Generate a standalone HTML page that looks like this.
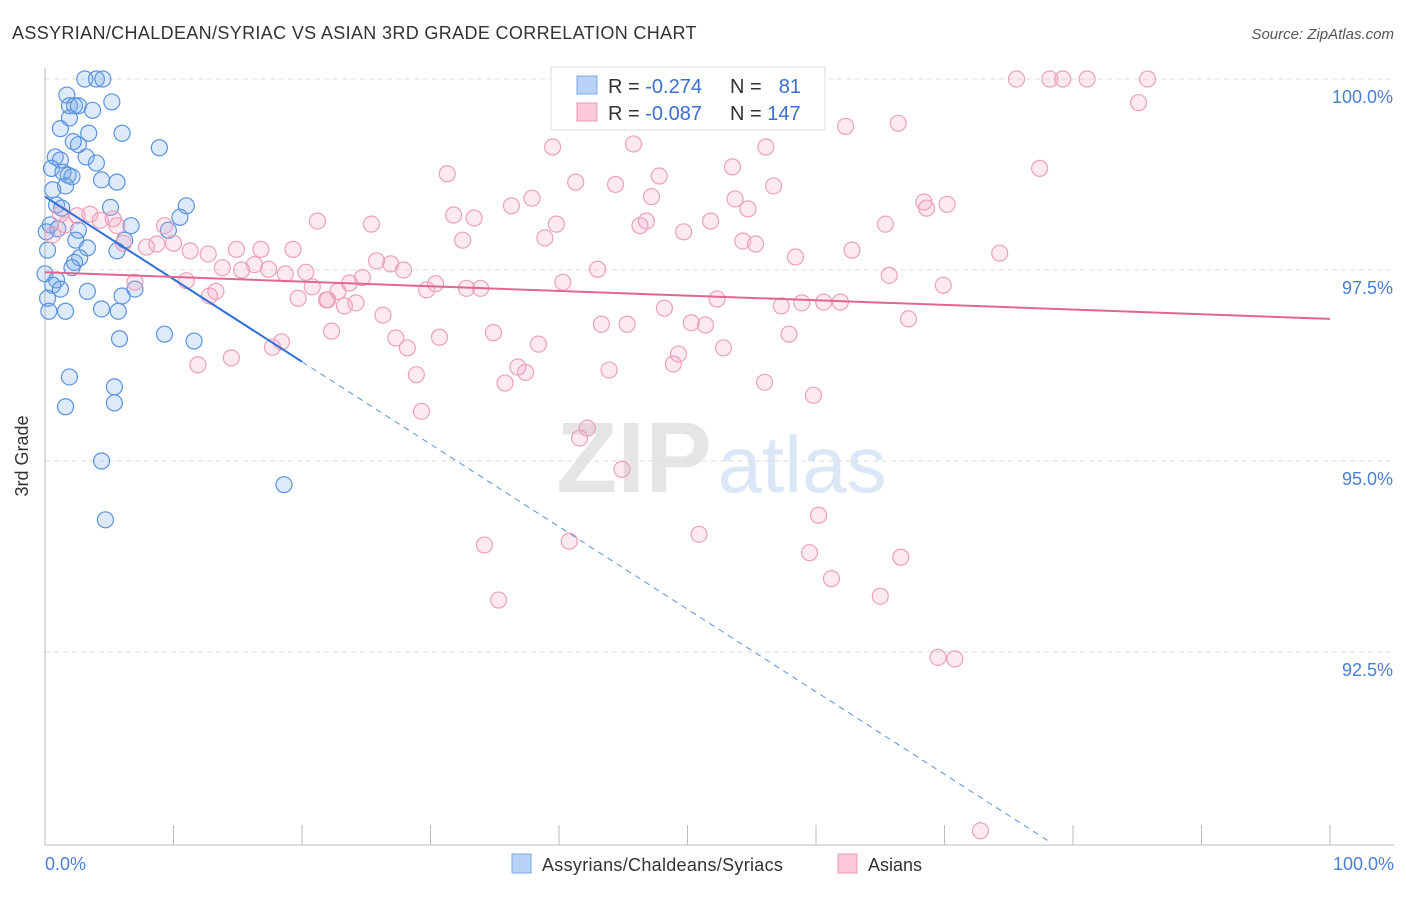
<!DOCTYPE html>
<html><head><meta charset="utf-8"><style>
body{margin:0;background:#fff;font-family:"Liberation Sans",sans-serif;}
svg text{font-family:"Liberation Sans",sans-serif;}
</style></head><body>
<svg id="chart" width="1406" height="892" xmlns="http://www.w3.org/2000/svg">
<text x="12" y="39" font-size="18" fill="#333" letter-spacing="0.35">ASSYRIAN/CHALDEAN/SYRIAC VS ASIAN 3RD GRADE CORRELATION CHART</text>
<text x="1394" y="39" font-size="15" fill="#555" font-style="italic" text-anchor="end">Source: ZipAtlas.com</text>
<g opacity="0.5">
<text x="634" y="492" font-size="100" fill="#ccc" text-anchor="middle" font-family="Liberation Serif" font-weight="bold">ZIP</text>
<text x="802" y="492" font-size="80" fill="#b8cff0" text-anchor="middle">atlas</text>
</g>
<g id="grid"></g>
<g id="axes"></g>
<g id="pts"></g>
<g id="trends"></g>
<text x="28" y="456" font-size="18" fill="#333" text-anchor="middle" transform="rotate(-90 28 456)">3rd Grade</text>
<text x="45" y="870" font-size="18" fill="#4a7fd4">0.0%</text>
<text x="1394" y="870" font-size="18" fill="#4a7fd4" text-anchor="end">100.0%</text>
<g>
<rect x="551" y="67" width="274" height="63" fill="#fff" stroke="#ddd"/>
<rect x="577" y="76" width="20" height="18" fill="#b8d3f5" stroke="#7aa7e3"/>
<rect x="577" y="103" width="20" height="18" fill="#fac8d8" stroke="#ee9ab5"/>
<text x="608" y="93" font-size="20" fill="#333">R = <tspan fill="#3a6fd0">-0.274</tspan></text>
<text x="730" y="93" font-size="20" fill="#333">N = </text><text x="801" y="93" font-size="20" fill="#3a6fd0" text-anchor="end">81</text>
<text x="608" y="120" font-size="20" fill="#333">R = <tspan fill="#3a6fd0">-0.087</tspan></text>
<text x="730" y="120" font-size="20" fill="#333">N = <tspan fill="#3a6fd0">147</tspan></text>
</g>
<g>
<rect x="512" y="854" width="19" height="19" fill="#b8d3f5" stroke="#7aa7e3"/>
<text x="542" y="871" font-size="18" fill="#333" letter-spacing="0.3">Assyrians/Chaldeans/Syriacs</text>
<rect x="838" y="854" width="19" height="19" fill="#fac8d8" stroke="#ee9ab5"/>
<text x="868" y="871" font-size="18" fill="#333">Asians</text>
</g>
</svg>
<script>
const yTicks=[100,97.5,95,92.5];
const yTickLabels=["100.0%","97.5%","95.0%","92.5%"];
const xTicks=[0,10,20,30,40,50,60,70,80,90,100];
const blueX=[3.1,4.0,4.5,1.7,1.9,2.3,2.6,5.2,3.7,1.2,1.9,3.4,6.0,2.6,2.2,0.8,1.2,3.2,4.0,8.9,0.5,1.4,1.8,2.1,4.4,5.6,1.6,0.6,11.0,5.1,0.9,1.3,10.5,0.4,0.1,1.0,2.6,6.7,9.6,2.4,6.2,0.2,5.6,3.3,2.7,2.3,2.1,0,0.9,0.6,1.2,3.3,7.0,6.0,0.2,1.6,4.4,5.7,0.3,9.3,11.6,5.8,1.9,5.4,5.4,1.6,4.4,18.6,4.7];
const blueY=[100,100,100,99.79,99.65,99.65,99.65,99.70,99.59,99.35,99.49,99.29,99.29,99.14,99.18,98.98,98.94,98.98,98.90,99.10,98.83,98.78,98.74,98.72,98.68,98.65,98.60,98.55,98.34,98.32,98.35,98.31,98.19,98.09,98.00,98.04,98.02,98.08,98.02,97.89,97.89,97.76,97.75,97.79,97.66,97.60,97.53,97.45,97.37,97.30,97.25,97.22,97.25,97.16,97.13,96.96,96.99,96.96,96.96,96.66,96.57,96.60,96.10,95.97,95.76,95.71,95.0,94.69,94.23];
const pinkX=[75.6,78.2,79.2,81.1,85.8,85.1,66.4,62.3,45.8,39.5,56.1,53.5,77.4,31.3,47.8,41.3,44.4,56.7,37.9,47.2,68.4,36.3,53.7,68.6,70.2,31.8,33.4,54.7,21.2,25.4,39.8,46.3,46.8,51.8,65.4,49.7,38.9,32.5,54.3,55.3,14.9,16.8,19.3,62.8,74.3,58.4,11.3,12.7,7.9,6.1,8.7,5.6,1.2,2.5,3.5,4.3,5.3,1.6,0.6,10.0,9.3,25.8,26.9,27.9,13.8,15.3,16.3,17.4,18.7,20.3,43.0,65.7,69.9,11.0,7.0,24.7,23.7,30.4,32.8,33.9,29.7,40.3,13.3,12.8,20.8,19.7,22.0,22.8,21.9,24.2,23.3,26.3,52.3,57.3,58.9,60.6,61.9,48.2,67.2,43.3,45.3,50.3,51.4,34.9,30.7,27.3,22.3,38.4,28.2,18.4,17.7,52.8,57.9,49.3,14.5,11.9,36.8,37.4,28.9,43.9,48.9,56.0,35.8,59.8,29.3,42.2,41.6,44.9,60.2,34.2,40.8,50.9,59.5,66.6,61.2,65.0,35.3,69.5,70.8,72.8];
const pinkY=[100,100,100,100,100,99.69,99.42,99.38,99.15,99.11,99.11,98.85,98.83,98.76,98.73,98.65,98.62,98.60,98.44,98.46,98.39,98.34,98.43,98.31,98.36,98.22,98.18,98.30,98.14,98.10,98.10,98.08,98.14,98.14,98.10,98.00,97.92,97.89,97.88,97.84,97.77,97.77,97.77,97.76,97.72,97.67,97.75,97.71,97.80,97.85,97.84,98.08,98.23,98.21,98.23,98.15,98.17,98.09,97.96,97.85,98.08,97.62,97.58,97.50,97.53,97.50,97.57,97.51,97.45,97.47,97.51,97.43,97.30,97.36,97.34,97.40,97.33,97.32,97.26,97.26,97.24,97.34,97.22,97.16,97.28,97.13,97.11,97.22,97.11,97.07,97.03,96.91,97.12,97.03,97.07,97.08,97.08,97.00,96.86,96.79,96.79,96.81,96.78,96.68,96.62,96.61,96.70,96.53,96.48,96.56,96.49,96.48,96.66,96.40,96.35,96.26,96.23,96.16,96.13,96.19,96.27,96.03,96.02,95.86,95.65,95.43,95.30,94.89,94.29,93.90,93.95,94.04,93.80,93.74,93.46,93.23,93.18,92.43,92.41,90.16];
const blueTrend=[98.46,96.30];
const pinkTrend=[97.47,96.86];
const X=v=>45+v*12.85;
const Y=v=>79+(100-v)*191/2.5;
const NS="http://www.w3.org/2000/svg";
function mk(tag,attrs,parent){const e=document.createElementNS(NS,tag);for(const k in attrs)e.setAttribute(k,attrs[k]);parent.appendChild(e);return e;}
const grid=document.getElementById('grid'),axes=document.getElementById('axes'),pts=document.getElementById('pts'),tr=document.getElementById('trends');
yTicks.forEach((t,i)=>{
 const l=mk('line',{x1:45,x2:1394,y1:Y(t),y2:Y(t),stroke:'#ddd','stroke-dasharray':'5,4'},grid);
 
 
 const tx=mk('text',{x:1393,y:Y(t)+24,'font-size':18,fill:'#4a7fd4','text-anchor':'end'},grid);
 tx.textContent=yTickLabels[i];
 
 
});
const la=mk('line',{x1:45,x2:45,y1:68,y2:845,stroke:'#bbb'},axes);


const ba=mk('line',{x1:45,x2:1394,y1:845,y2:845,stroke:'#bbb'},axes);


xTicks.forEach(t=>{
 const l=mk('line',{x1:X(t),x2:X(t),y1:825,y2:845,stroke:'#bbb'},axes);
 
 
});
blueX.forEach((x,i)=>{
 const c=mk('circle',{cx:X(x),cy:Y(blueY[i]),r:8,fill:'rgba(120,170,235,0.25)',stroke:'#5b93de','stroke-width':1.2},pts);
 
 
});
pinkX.forEach((x,i)=>{
 const c=mk('circle',{cx:X(x),cy:Y(pinkY[i]),r:8,fill:'rgba(245,160,190,0.22)',stroke:'#eca0ba','stroke-width':1.2},pts);
 
 
});
const slope=(blueTrend[1]-blueTrend[0])/20;
const xEnd=(90-blueTrend[0])/slope;
const b1=mk('line',{x1:X(0),y1:Y(blueTrend[0]),x2:X(20),y2:Y(blueTrend[1]),stroke:'#2f6fd6','stroke-width':2},tr);


const b2=mk('line',{x1:X(20),y1:Y(blueTrend[1]),x2:X(xEnd),y2:Y(90),stroke:'#5b93de','stroke-width':1,'stroke-dasharray':'6,5'},tr);


const p1=mk('line',{x1:X(0),y1:Y(pinkTrend[0]),x2:X(100),y2:Y(pinkTrend[1]),stroke:'#e2668f','stroke-width':2},tr);


</script>
</body></html>
